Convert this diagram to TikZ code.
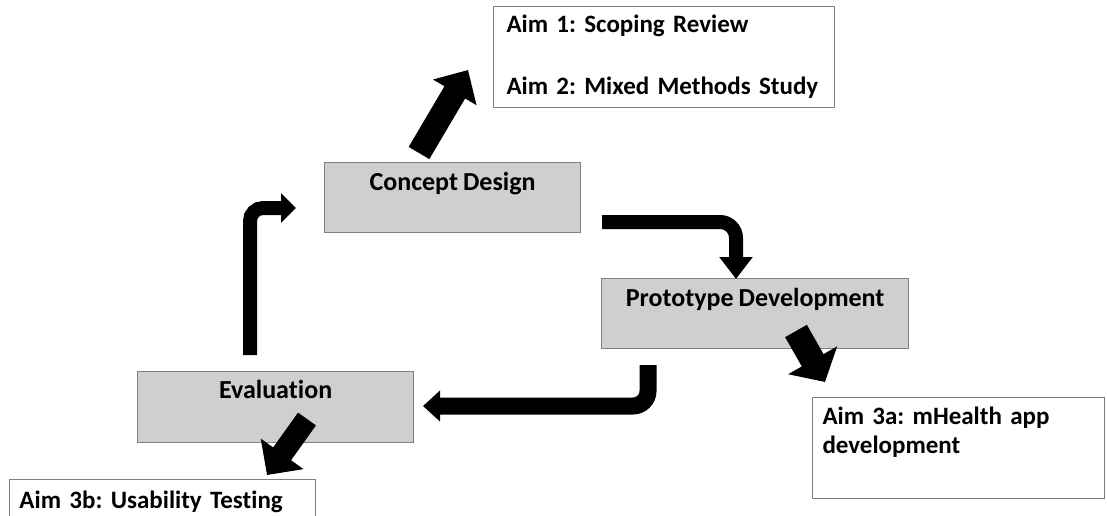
\documentclass[tikz,border=0pt]{standalone}
\usepackage{fontspec}
\setmainfont[Ligatures=NoCommon, WordSpace=0.85]{Carlito}
\usetikzlibrary{arrows.meta, calc}
\definecolor{boxgrey}{RGB}{208,206,206}
\definecolor{edgegrey}{RGB}{128,128,128}
\frenchspacing

\begin{document}
\begin{tikzpicture}[
    x=1pt, y=-1pt,
    phase/.style={draw=edgegrey, fill=boxgrey, line width=1.2pt, anchor=north west, inner sep=0pt,
        text height=28pt, text depth=42pt, font=\bfseries\fontsize{26}{29}\selectfont},
    aim/.style={draw=edgegrey, fill=white, line width=1pt, anchor=north west, inner ysep=0pt,
        align=left, font=\bfseries\fontsize{25}{29}\selectfont},
    flow/.style={black, line width=#1},
]
    \clip (0,0) rectangle (1107,516);
    \fill[white] (0,0) rectangle (1107,516);

    % stage boxes
    \node[phase, minimum width=256pt] (concept) at (324,162) {Concept Design};
    \node[phase, minimum width=307pt] (proto) at (601,278) {Prototype Development};
    \node[phase, minimum width=276pt, text height=27pt, text depth=44pt] (eval) at (137,371) {Evaluation};

    % aims
    \node[aim, inner xsep=13pt, text width=315pt, minimum height=101pt] (aims12) at (493,6)
        {Aim 1: Scoping Review\\[33pt]Aim 2: Mixed Methods Study};
    \node[aim, inner xsep=10pt, text width=272pt, minimum height=101pt] (aim3a) at (812,397)
        {Aim 3a: mHealth app\\development\\[6pt]\mbox{}};
    \node[aim, inner xsep=10pt, text width=286pt, text height=29pt, text depth=40pt] (aim3b) at (9,479)
        {Aim 3b: Usability Testing};

    % arrow ends
    \coordinate (c-out) at (419,153);
    \coordinate (c-aim) at (468,70);
    \coordinate (c-right) at (602,222);
    \coordinate (p-in) at (736,279);
    \coordinate (p-down) at (648,365);
    \coordinate (e-in) at (423,406);
    \coordinate (e-up) at (250,355);
    \coordinate (c-in) at (296,208);
    \coordinate (p-out) at (796,331);
    \coordinate (a-in) at (825,382);
    \coordinate (e-out) at (307,419);
    \coordinate (b-in) at (267,475);

    \draw[flow=24pt, -{Triangle[length=26pt, width=49pt]}] (c-out) -- (c-aim);
    \draw[flow=14pt, rounded corners=16pt, -{Triangle[length=22pt, width=32pt]}] (c-right) -| (p-in);
    \draw[flow=17pt, rounded corners=15pt, -{Triangle[length=17pt, width=30pt]}] (p-down) |- (e-in);
    \draw[flow=14pt, rounded corners=13pt, -{Triangle[length=15pt, width=29pt]}] (e-up) |- (c-in);
    \draw[flow=25pt, -{Triangle[length=25pt, width=55pt]}] (p-out) -- (a-in);
    \draw[flow=22pt, -{Triangle[length=26pt, width=51pt]}] (e-out) -- (b-in);
\end{tikzpicture}
\end{document}
